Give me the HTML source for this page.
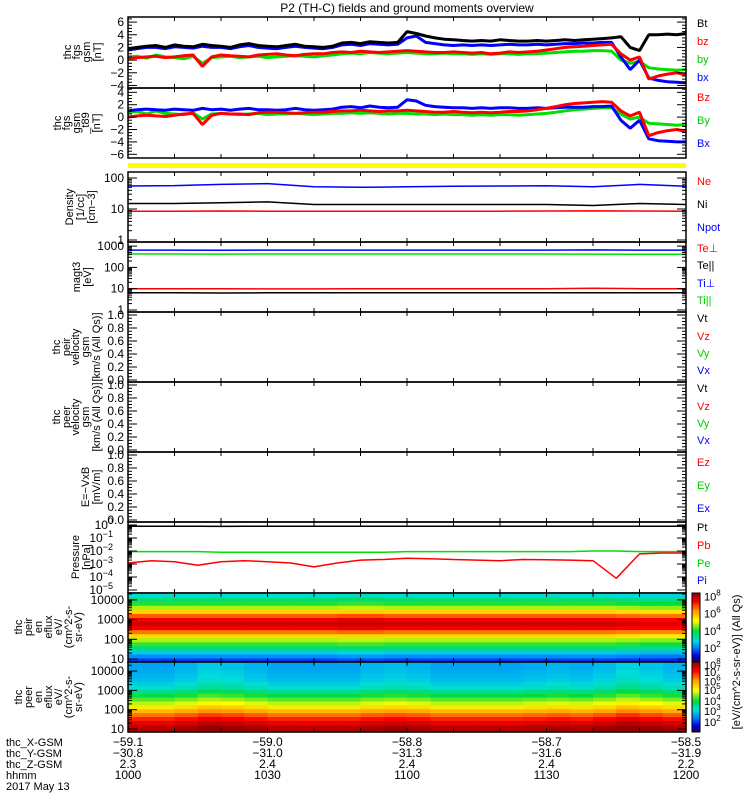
<!DOCTYPE html>
<html><head><meta charset="utf-8"><title>P2 (TH-C) fields and ground moments overview</title>
<style>
html,body{margin:0;padding:0;background:#fff;}
svg{display:block;font-family:"Liberation Sans",sans-serif;}
</style></head>
<body>
<svg id="chart" width="750" height="800" viewBox="0 0 750 800" xmlns="http://www.w3.org/2000/svg"></svg>
<script>
// ---------- DATA ----------
const timeMin = [0,2,4,6,8,10,12,14,16,18,20,22,24,26,28,30,32,34,36,38,40,42,44,46,48,50,52,54,56,58,60,62,64,66,68,70,72,74,76,78,80,82,84,86,88,90,92,94,96,98,100,102,104,106,108,110,112,114,116,118,120];
const fgsBt = [1.8,2.0,2.2,2.3,2.0,2.4,2.2,2.1,2.5,2.3,2.2,2.0,2.4,2.6,2.3,2.2,2.1,2.3,2.5,2.2,2.1,2.0,2.2, 2.7,2.8,2.6,2.9,2.8,2.7,2.8, 4.5,4.2,3.8,3.5,3.3,3.2, 3.1,3.0,3.1,3.0,3.2,3.1,3.0,3.0,3.1,3.0,3.1,3.2,3.1, 3.2,3.3,3.4,3.5, 3.7,2.0,1.5, 4.0, 4.0,4.1,4.0,4.2];
const fgsBz = [0.3,0.4,0.5,0.6,0.4,0.5,0.7,0.8,-1.0,0.5,0.8,0.7,0.6,0.5,0.8,0.9,1.0,0.8,0.7,0.9,1.0,1.0,1.2, 1.3,1.2,1.4,1.3,1.2,1.3,1.4, 1.5,1.4,1.3,1.2,1.2,1.3, 1.2,1.1,1.2,1.0,1.1,1.3,1.2,1.3,1.4,1.6,1.8,2.0,2.1, 2.2,2.3,2.4,2.5, 1.0,0.0,0.5, -3.0, -2.5,-2.2,-2.0,-2.3];
const fgsBx = [1.6,1.8,2.0,2.0,1.8,2.1,2.0,1.9,2.2,2.0,2.0,1.8,2.1,2.3,2.0,1.9,1.8,2.0,2.2,2.0,1.9,1.8,2.0, 2.4,2.5,2.3,2.6,2.5,2.4,2.5, 3.5,3.8,2.8,2.6,2.4,2.3, 2.4,2.3,2.4,2.3,2.4,2.5,2.4,2.4,2.5,2.4,2.5,2.6,2.6, 2.7,2.7,2.8,2.8, 0.5,-1.5,0.0, -2.8, -3.2,-3.4,-3.5,-3.6];
const fgsBy = [0.5,0.6,0.3,0.8,0.5,0.4,0.2,0.6,-0.5,0.4,0.5,0.6,0.4,0.5,0.6,0.4,0.5,0.6,0.7,0.6,0.5,0.7,0.8, 1.0,1.1,1.0,1.2,1.1,1.0,1.1, 1.2,1.1,1.0,1.0,1.1,1.0, 1.0,0.9,1.0,0.9,1.0,1.0,0.9,1.0,1.0,1.1,1.2,1.3,1.4, 1.4,1.5,1.5,1.4, 0.0,-0.5,-0.2, -1.2, -1.4,-1.5,-1.6,-1.5];
const t89Bx = [1.0,1.2,1.3,1.2,1.1,1.3,1.2,1.1,1.4,1.2,1.3,1.1,1.3,1.4,1.2,1.2,1.1,1.2,1.4,1.2,1.1,1.2,1.3, 1.6,1.7,1.5,1.8,1.6,1.5,1.6, 2.8,2.6,1.9,1.7,1.6,1.5, 1.5,1.4,1.5,1.4,1.5,1.5,1.4,1.4,1.5,1.4,1.5,1.6,1.6, 1.6,1.7,1.7,1.8, -0.5,-1.8,-0.5, -3.5, -3.8,-3.9,-4.0,-4.0];
const t89By = [0.8,0.9,0.5,1.0,0.6,0.5,0.4,0.7,-0.3,0.5,0.6,0.5,0.4,0.5,0.6,0.4,0.5,0.5,0.6,0.5,0.4,0.5,0.6, 0.6,0.7,0.6,0.7,0.6,0.5,0.6, 0.6,0.5,0.5,0.4,0.5,0.4, 0.4,0.3,0.4,0.3,0.4,0.4,0.3,0.4,0.5,0.6,0.8,1.0,1.2, 1.3,1.4,1.5,1.5, 0.5,-0.3,0.0, -1.0, -1.1,-1.2,-1.3,-1.2];
const t89Bz = [0.0,0.2,0.3,0.2,0.1,0.3,0.5,0.6,-1.2,0.3,0.6,0.5,0.5,0.4,0.7,0.8,0.8,0.7,0.6,0.7,0.8,0.8,0.9, 1.0,1.0,1.1,1.0,0.9,1.0,1.0, 1.1,1.0,0.9,0.8,0.8,0.9, 0.8,0.7,0.8,0.7,0.8,0.9,0.9,1.0,1.2,1.4,1.7,2.0,2.2, 2.3,2.4,2.5,2.4, 1.0,0.2,0.8, -3.0, -2.5,-2.2,-2.0,-2.3];

const time10 = [0,10,20,30,40,50,60,70,80,90,100,110,120];
const densNpot = [55,57,62,66,52,50,52,54,55,56,52,62,54];
const densNi = [15,15,16,17,14,14,14,14,14,14,13,15,14];
const densNe = [8.5,8.5,8.6,8.5,8.5,8.5,8.5,8.5,8.5,8.6,8.7,8.6,8.5];
const tempTiPerp = [650,650,640,650,650,650,650,650,650,650,660,650,650];
const tempTiPar = [430,425,420,425,425,425,425,425,425,425,420,410,410];
const tempTePerp = [10,10,10,9.8,9.8,10,10,10,10,10,10.5,10,10];
const tempTePar = [6.5,6.5,6.3,6.4,6.5,6.5,6.5,6.5,6.5,6.5,6.5,6.4,6.4];

const time5 = [0,5,10,15,20,25,30,35,40,45,50,55,60,65,70,75,80,85,90,95,100,105,110,115,120];
const presPt = [0.8,0.8,0.8,0.8,0.78,0.8,0.8,0.8,0.8,0.8,0.8,0.8,0.8,0.8,0.8,0.8,0.8,0.8,0.8,0.8,0.8,0.8,0.8,0.8,0.8];
const presPe = [0.009,0.009,0.009,0.009,0.008,0.008,0.008,0.008,0.008,0.008,0.008,0.008,0.009,0.009,0.009,0.009,0.009,0.009,0.009,0.009,0.01,0.01,0.009,0.009,0.009];
const presPb = [0.0012,0.0018,0.0015,0.0008,0.0015,0.0018,0.0015,0.0012,0.0006,0.0012,0.0020,0.0022,0.0028,0.0025,0.0022,0.0020,0.0018,0.0022,0.0021,0.0020,0.0018,0.00008,0.006,0.007,0.007];

const ionLevels = [0.15,0.22,0.3,0.4,0.48,0.55,0.65,0.78,0.9,0.93,0.9,0.8,0.66,0.55,0.47,0.4,0.33];
const elecLevels = [0.97,0.95,0.9,0.85,0.78,0.7,0.63,0.56,0.5,0.44,0.38,0.33,0.3,0.28,0.27,0.26,0.25,0.25];
const ionShift = [0,0,0,0,0,0,0,0,0,0.01,0.01,0,0,0,0,0,0,0,0,0,0,-0.01,-0.02,-0.02];
const elecShift = [0,0,0.02,0.05,0.04,0.02,0,0,0,0,0.02,0.03,0.02,0,0,0,0,0.01,0.02,0.01,0.03,0.06,0.04,0.02];

const xTickLabels = ["1000","1030","1100","1130","1200"];
const posX = ["-59.1","-59.0","-58.8","-58.7","-58.5"];
const posY = ["-30.8","-31.0","-31.3","-31.6","-31.9"];
const posZ = ["2.3","2.4","2.4","2.4","2.2"];

// ---------- HELPERS ----------
const NS = "http://www.w3.org/2000/svg";
const svg = document.getElementById('chart');
const X0 = 128, X1 = 686;
function xs(m){ return X0 + m/120*(X1-X0); }
function mk(tag, attrs, parent){
  const e = document.createElementNS(NS, tag);
  for (const k in attrs) e.setAttribute(k, attrs[k]);
  (parent||svg).appendChild(e); return e;
}
function linY(top, bot, lo, hi){ return v => bot - (v-lo)/(hi-lo)*(bot-top); }
function logY(y1, perDec){ return v => y1 - perDec*Math.log10(v); }
function txt(x,y,s,opts,name){
  const t = mk('text', Object.assign({x:x,y:y,'font-size':11,fill:'#000'}, opts||{}));
  t.textContent = s;
  
  
  return t;
}
function series(xArr, yArr, ys, color, w, name){
  const pts = xArr.map((m,i)=> xs(m).toFixed(1)+','+ys(yArr[i]).toFixed(1)).join(' ');
  const p = mk('polyline', {points:pts, fill:'none', stroke:color, 'stroke-width':w, 'stroke-linejoin':'bevel'});
  
  
  return p;
}
function ytitle(lines, xsArr, cy, name){
  lines.forEach((s,i)=>{
    const t = mk('text', {x:0,y:0,'font-size':11,'text-anchor':'middle',transform:'translate('+xsArr[i]+','+cy+') rotate(-90)'});
    t.textContent = s;
    
    
  });
}
function frame(top, bot, name){
  const r = mk('rect', {x:X0,y:top,width:X1-X0,height:bot-top,fill:'none',stroke:'#000','stroke-width':1.5});
  
  
  for (let m=10;m<120;m+=10){
    mk('line',{x1:xs(m),x2:xs(m),y1:top,y2:top+4,stroke:'#000'});
    mk('line',{x1:xs(m),x2:xs(m),y1:bot-4,y2:bot,stroke:'#000'});
  }
}
function ytick(y, len){
  mk('line',{x1:X0,x2:X0+len,y1:y,y2:y,stroke:'#000'});
  mk('line',{x1:X1-len,x2:X1,y1:y,y2:y,stroke:'#000'});
}
function linTicks(ys, lo, hi, step, nminor, top, bot, fmt, name){
  for (let v=lo; v<=hi+1e-9; v+=step){
    const y = ys(v); if (y<top-1||y>bot+1) continue;
    ytick(y,9);
    txt(124, y+4, fmt(v), {'text-anchor':'end','font-size':12}, name);
    for (let k=1;k<nminor;k++){ const yy=ys(v+k*step/nminor); if(yy>=top&&yy<=bot) ytick(yy,4); }
  }
}
function logTicks(ys, d0, d1, top, bot, labelFn, name){
  for (let d=d0; d<=d1; d++){
    const y = ys(Math.pow(10,d));
    if (y>=top-1 && y<=bot+1){ ytick(y,9); labelFn(d, y); }
    for (let k=2;k<10;k++){ const yy=ys(k*Math.pow(10,d)); if(yy>=top&&yy<=bot) ytick(yy,4); }
  }
}
function legend(x, y, s, color, name){ txt(x, y, s, {fill:color,'font-size':11}, name); }
function cmap(v){
  const st=[[0,[40,0,60]],[0.1,[0,0,230]],[0.22,[0,140,255]],[0.32,[0,220,220]],[0.45,[0,220,60]],[0.6,[255,255,0]],[0.75,[255,150,0]],[0.88,[255,0,0]],[1,[150,0,0]]];
  v=Math.max(0,Math.min(1,v));
  for(let i=1;i<st.length;i++){ if(v<=st[i][0]){ const a=st[i-1],b=st[i],f=(v-a[0])/(b[0]-a[0]);
    return 'rgb('+a[1].map((c,j)=>Math.round(c+(b[1][j]-c)*f)).join(',')+')'; } }
  return 'rgb(150,0,0)';
}

// ---------- TITLE ----------
txt(407, 12, 'P2 (TH-C) fields and ground moments overview', {'text-anchor':'middle','font-size':12}, 'chart-title');

// ---------- PANEL 1: FGS GSM ----------
const y1 = linY(17, 88, -4.4, 6.8);
series(timeMin, fgsBy, y1, '#00e000', 3, 'fgs-by-line');
series(timeMin, fgsBx, y1, '#0000ff', 3, 'fgs-bx-line');
series(timeMin, fgsBz, y1, '#ff0000', 3, 'fgs-bz-line');
series(timeMin, fgsBt, y1, '#000000', 3, 'fgs-bt-line');
frame(17, 88, 'fgs-gsm-frame');
linTicks(y1, -4, 6, 2, 4, 17, 88, v=>v.toFixed(0).replace('-','\u2212'), 'fgs-y-tick-label');
ytitle(['thc','fgs','gsm','[nT]'], [71,80,90,101], 52, 'fgs-y-title');
legend(697, 27, 'Bt', '#000', 'legend-bt'); legend(697, 45, 'bz', '#f00', 'legend-bz');
legend(697, 63, 'by', '#0c0', 'legend-by'); legend(697, 81, 'bx', '#00f', 'legend-bx');

// ---------- PANEL 2: FGS GSM - T89 ----------
const y2 = linY(88, 158, -6.6, 4.7);
series(timeMin, t89By, y2, '#00e000', 3, 't89-by-line');
series(timeMin, t89Bx, y2, '#0000ff', 3, 't89-bx-line');
series(timeMin, t89Bz, y2, '#ff0000', 3, 't89-bz-line');
frame(88, 158, 'fgs-t89-frame');
linTicks(y2, -6, 4, 2, 4, 88, 158, v=>v.toFixed(0).replace('-','\u2212'), 'fgs-t89-y-tick-label');
ytitle(['thc','fgs','gsm','_t89','[nT]'], [61,70,80,89,100], 123, 'fgs-t89-y-title');
legend(697, 101, 'Bz', '#f00', 'legend-t89-bz'); legend(697, 124, 'By', '#0c0', 'legend-t89-by');
legend(697, 147, 'Bx', '#00f', 'legend-t89-bx');

// yellow bar
const yb = mk('rect',{x:X0,y:163,width:X1-X0,height:5,fill:'#ffff00'});
 

// ---------- PANEL 3: DENSITY ----------
const y3 = logY(240, 31);
series(time10, densNpot, y3, '#0000ff', 1.5, 'density-npot-line');
series(time10, densNi, y3, '#000', 1.5, 'density-ni-line');
series(time10, densNe, y3, '#ff0000', 1.5, 'density-ne-line');
frame(172, 242, 'density-frame');
logTicks(y3, 0, 2, 172, 242, (d,y)=>txt(124,y+4,String(Math.pow(10,d)),{'text-anchor':'end','font-size':12},'density-y-tick-label'), 'd');
ytitle(['Density','[1/cc]','[cm\u22123]'], [73,84,95], 207, 'density-y-title');
legend(697, 185, 'Ne', '#f00', 'legend-ne'); legend(697, 208, 'Ni', '#000', 'legend-ni');
legend(697, 231, 'Npot', '#00f', 'legend-npot');

// ---------- PANEL 4: TEMPERATURE ----------
const y4 = logY(310, 21.3);
series(time10, tempTiPerp, y4, '#0000ff', 1.5, 'temp-ti-perp-line');
series(time10, tempTiPar, y4, '#00e000', 1.5, 'temp-ti-par-line');
series(time10, tempTePerp, y4, '#ff0000', 1.5, 'temp-te-perp-line');
series(time10, tempTePar, y4, '#000', 1.5, 'temp-te-par-line');
frame(242, 312, 'temp-frame');
logTicks(y4, 0, 3, 242, 312, (d,y)=>txt(124,y+4,String(Math.pow(10,d)),{'text-anchor':'end','font-size':12},'temp-y-tick-label'), 't');
ytitle(['magt3','[eV]'], [80,91], 277, 'temp-y-title');
legend(697, 252, 'Te\u22a5', '#f00', 'legend-te-perp'); legend(697, 269, 'Te||', '#000', 'legend-te-par');
legend(697, 287, 'Ti\u22a5', '#00f', 'legend-ti-perp'); legend(697, 304, 'Ti||', '#0c0', 'legend-ti-par');

// ---------- PANELS 5-7: EMPTY LINEAR ----------
function emptyPanel(top, bot, name){
  const ys = linY(top+3, bot-2, 0, 1);
  frame(top, bot, name+'-frame');
  linTicks(ys, 0, 1, 0.2, 4, top, bot, v=>v.toFixed(1), name+'-y-tick-label');
}
emptyPanel(312, 382, 'ion-velocity');
ytitle(['thc','peir','velocity','gsm','[km/s (All Qs)]'], [60,70,79,89,100], 347, 'ion-velocity-y-title');
legend(697, 322, 'Vt', '#000', 'legend-ion-vt'); legend(697, 340, 'Vz', '#f00', 'legend-ion-vz');
legend(697, 357, 'Vy', '#0c0', 'legend-ion-vy'); legend(697, 374, 'Vx', '#00f', 'legend-ion-vx');
emptyPanel(382, 452, 'elec-velocity');
ytitle(['thc','peer','velocity','gsm','[km/s (All Qs)]'], [60,70,79,89,100], 417, 'elec-velocity-y-title');
legend(697, 392, 'Vt', '#000', 'legend-elec-vt'); legend(697, 410, 'Vz', '#f00', 'legend-elec-vz');
legend(697, 427, 'Vy', '#0c0', 'legend-elec-vy'); legend(697, 444, 'Vx', '#00f', 'legend-elec-vx');
emptyPanel(452, 522, 'efield');
ytitle(['E=\u2212VxB','[mV/m]'], [89,100], 487, 'efield-y-title');
legend(697, 466, 'Ez', '#f00', 'legend-ez'); legend(697, 489, 'Ey', '#0c0', 'legend-ey');
legend(697, 512, 'Ex', '#00f', 'legend-ex');

// ---------- PANEL 8: PRESSURE ----------
const y8 = logY(525, 13);
series(time5, presPe, y8, '#00e000', 1.5, 'pressure-pe-line');
series(time5, presPb, y8, '#ff0000', 1.5, 'pressure-pb-line');
series(time5, presPt, y8, '#000', 1.5, 'pressure-pt-line');
frame(522, 593, 'pressure-frame');
logTicks(y8, -5, 0, 522, 593, (d,y)=>{
  const t = txt(113, y+4, '10', {'text-anchor':'end','font-size':12}, 'pressure-y-tick-label');
  const s = mk('tspan',{dy:-5,'font-size':9}, t); s.textContent = d===0?'0':'\u2212'+(-d);
}, 'p');
ytitle(['Pressure','[nPa]'], [79,90], 557, 'pressure-y-title');
legend(697, 531, 'Pt', '#000', 'legend-pt'); legend(697, 549, 'Pb', '#f00', 'legend-pb');
legend(697, 567, 'Pe', '#0c0', 'legend-pe'); legend(697, 584, 'Pi', '#00f', 'legend-pi');

// ---------- SPECTROGRAMS ----------
function spectro(top, bot, levels, shift, y10, perDec, name){
  const g = mk('g',{});
  
  
  const nT = shift.length, nE = levels.length, rowH = (bot-top)/nE, colW = (X1-X0)/nT;
  for (let i=0;i<nT;i++) for (let j=0;j<nE;j++){
    mk('rect',{x:(X0+i*colW).toFixed(2), y:(bot-(j+1)*rowH).toFixed(2), width:(colW+0.6).toFixed(2), height:(rowH+0.6).toFixed(2), fill:cmap(levels[j]+shift[i])}, g);
  }
  frame(top, bot, name+'-frame');
  const ys = logY(y10+perDec, perDec);
  logTicks(ys, 1, 4, top, bot, (d,y)=>txt(124,y+4,String(Math.pow(10,d)),{'text-anchor':'end','font-size':12},name+'-y-tick-label'), 's');
}
spectro(593, 662, ionLevels, ionShift, 659, 19.7, 'ion-spectrogram');
ytitle(['thc','peir','en','eflux','eV/','(cm^2-s-','sr-eV)'], [22,32,42,52,62,72,82], 627, 'ion-spec-y-title');
spectro(662, 732, elecLevels, elecShift, 729, 19.3, 'elec-spectrogram');
ytitle(['thc','peer','en','eflux','eV/','(cm^2-s-','sr-eV)'], [22,32,42,52,62,72,82], 697, 'elec-spec-y-title');

// colorbars
function cbar(top, bot, labels, name){
  const g = mk('g',{});  
  const n=40, h=(bot-top)/n;
  for (let i=0;i<n;i++) mk('rect',{x:692,y:(bot-(i+1)*h).toFixed(2),width:8,height:(h+0.5).toFixed(2),fill:cmap((i+0.5)/n)},g);
  mk('rect',{x:692,y:top,width:8,height:bot-top,fill:'none',stroke:'#000'},g);
  labels.forEach(l=>{
    const t = txt(704, top + l[1]*(bot-top)+4, '10', {'font-size':11}, name+'-label');
    const s = mk('tspan',{dy:-5,'font-size':8}, t); s.textContent = l[0];
  });
}
cbar(593, 662, [['8',0.05],['6',0.3],['4',0.55],['2',0.8]], 'ion-colorbar');
cbar(662, 732, [['8',0.04],['7',0.14],['6',0.28],['5',0.4],['4',0.56],['3',0.7],['2',0.86]], 'elec-colorbar');
const cbt = mk('text',{x:0,y:0,'font-size':11,'text-anchor':'middle',transform:'translate(740,662) rotate(-90)'});
cbt.textContent = '[eV/(cm^2-s-sr-eV)] (All Qs)';
 

// ---------- BOTTOM LABELS ----------
const rowsLab = [['thc_X-GSM',posX,746],['thc_Y-GSM',posY,757],['thc_Z-GSM',posZ,768],['hhmm',xTickLabels,779]];
rowsLab.forEach(r=>{
  txt(6, r[2], r[0], {'font-size':11}, 'x-label-'+r[0].toLowerCase());
  r[1].forEach((s,i)=>txt(xs(i*30), r[2], s.replace('-','\u2212'), {'text-anchor':'middle','font-size':12}, 'x-tick-'+r[0].toLowerCase()));
});
txt(6, 790, '2017 May 13', {'font-size':11}, 'date-label');
</script>
</body></html>
